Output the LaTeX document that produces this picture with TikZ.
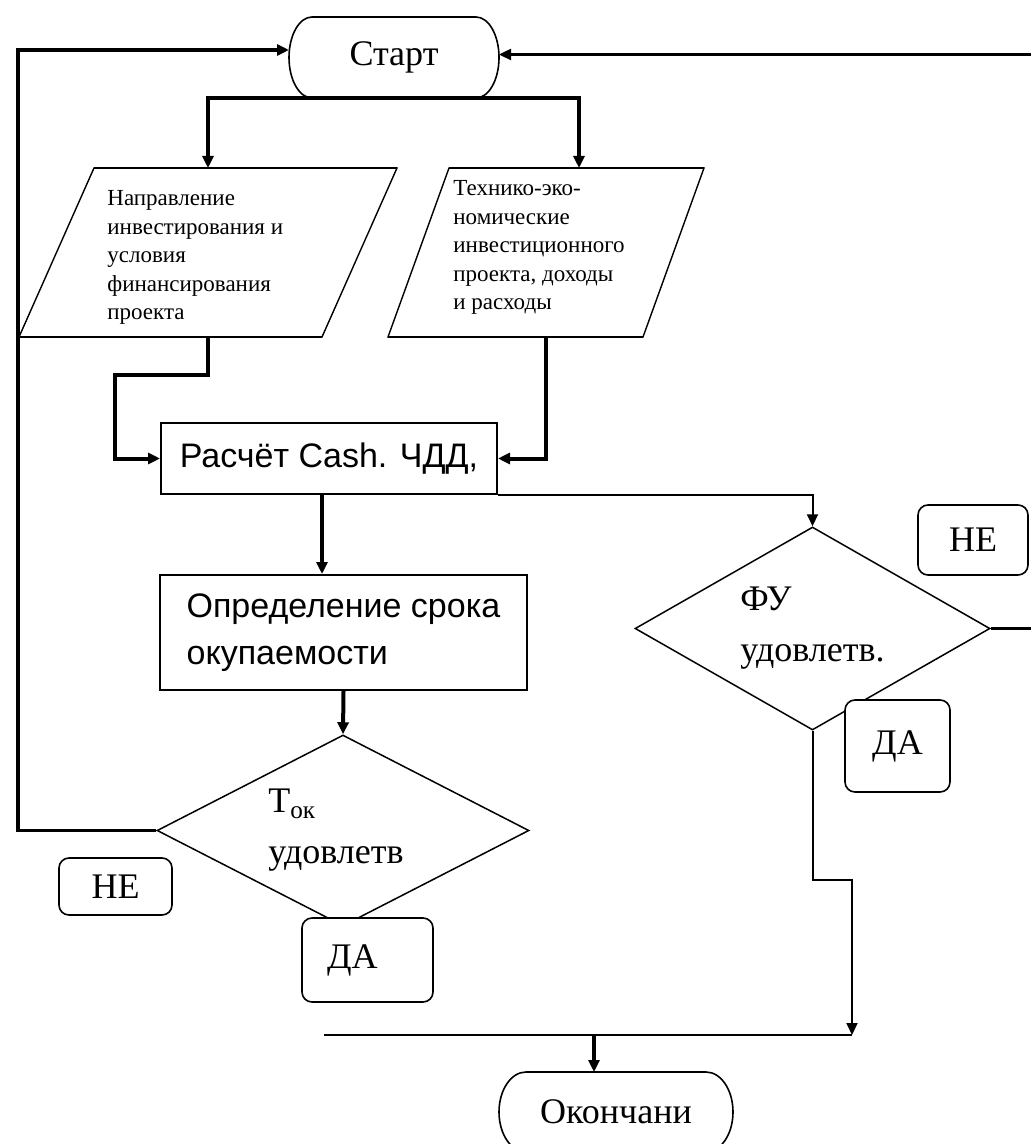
\documentclass[tikz,border=0pt]{standalone}
\usepackage{fontspec}
\setmainfont{Liberation Serif}
\setsansfont{Liberation Sans}
\usetikzlibrary{arrows.meta,shapes.geometric,calc}

% Terminator outline: straight top and bottom, half-elliptic ends.
% #1 node name, #2 x radius of the ends, #3 y radius of the ends (drawing units)
\newcommand\drawterm[3]{%
  \draw[outline]
    ($(#1.north west)+(#2,0)$) -- ($(#1.north east)+(-#2,0)$)
    .. controls +(0.5523*#2,0) and +(0,-0.5523*#3) .. (#1.east)
    .. controls +(0,0.5523*#3) and +(0.5523*#2,0) .. ($(#1.south east)+(-#2,0)$)
    -- ($(#1.south west)+(#2,0)$)
    .. controls +(-0.5523*#2,0) and +(0,0.5523*#3) .. (#1.west)
    .. controls +(0,-0.5523*#3) and +(-0.5523*#2,0) .. ($(#1.north west)+(#2,0)$)
    -- cycle;}

% Parallelogram outline drawn inside an invisible frame node; #2 = slant offset
\newcommand\drawslant[2]{%
  \draw[slantline]
    (#1.south west) -- ($(#1.north west)+(#2,0)$) -- (#1.north east)
    -- ($(#1.south east)+(-#2,0)$) -- cycle;
  \draw[edge] ($(#1.north west)+(#2,0)$) -- (#1.north east);
  \draw[edge] (#1.south west) -- ($(#1.south east)+(-#2,0)$);}

\tikzset{
  tip/.style={-{Triangle[length=6pt,width=5.5pt]}},
  conn/.style={line width=2pt, tip},
  thinconn/.style={line width=1pt, tip},
  loopline/.style={line width=1.8pt, tip},
  rloopline/.style={line width=1.2pt, tip},
  plainline/.style={line width=1pt},
  outline/.style={line width=0.8pt},
  edge/.style={line width=1pt},
  slantline/.style={line width=0.7pt},
  frame/.style={inner sep=0pt, outer sep=0pt},
  term/.style={frame, font=\fontsize{18}{21}\selectfont},
  procbox/.style={draw, line width=1pt, inner sep=0pt, fill=white,
    font=\sffamily\fontsize{17}{23.5}\selectfont},
  decision/.style={diamond, aspect=2, draw, line width=0.75pt, inner sep=0pt,
    align=left, font=\fontsize{18}{25.5}\selectfont},
  tag/.style={draw, rounded corners=5pt, line width=0.8pt, fill=white,
    inner sep=0pt, font=\fontsize{18}{21}\selectfont},
  ptext/.style={inner sep=0pt, align=left, font=\fontsize{11.5}{14.3}\selectfont},
}

\begin{document}
\begin{tikzpicture}[x=0.5pt, y=-0.5pt]
\useasboundingbox (0,0) rectangle (1030,1144);

% ---- terminators ----
\node[term, minimum width=105pt, minimum height=40.5pt] (start) at (394,57.5) {Старт};
\drawterm{start}{23}{40.5}
\node[term, minimum width=117pt, minimum height=40pt] (end) at (616,1112) {Окончани};
\drawterm{end}{27}{40}

% ---- input data ----
\node[frame, minimum width=189pt, minimum height=84.5pt] (par1) at (208,252.5) {};
\drawslant{par1}{75}
\node[ptext, anchor=north west] (par1txt) at (107,190)
  {Направление\\инвестирования и\\условия\\финансирования\\проекта};
\node[frame, minimum width=158pt, minimum height=84.5pt] (par2) at (546,252.5) {};
\drawslant{par2}{61}
\node[ptext, anchor=north west] (par2txt) at (453,180)
  {Технико-эко-\\номические\\инвестиционного\\проекта, доходы\\и расходы};

% ---- processes ----
\node[procbox, minimum width=168pt, minimum height=35.5pt] (calc) at (329,458.5)
  {Расчёт Cash. ЧДД,};
\node[procbox, minimum width=183.5pt, minimum height=57.5pt, align=left] (okup)
  at (343.5,632.5) {Определение срока\\окупаемости};

% ---- decisions ----
\node[decision, minimum width=186pt, minimum height=95.5pt] (tok) at (343,830.5)
  {\hspace*{-7pt}Т\textsubscript{ок}\\\hspace*{-7pt}удовлетв};
\node[decision, minimum width=177.5pt, minimum height=101.5pt] (fu) at (812.5,628.5)
  {ФУ\\удовлетв.};

% ---- branch tags ----
\node[tag, minimum width=56.5pt, minimum height=28.5pt] (ne1) at (115.5,886.5) {НЕ};
\node[tag, minimum width=65.5pt, minimum height=42pt, text width=40.5pt, align=left]
  (da1) at (367.5,960) {ДА};
\node[tag, minimum width=55pt, minimum height=35pt] (ne2) at (973,540) {НЕ};
\node[tag, minimum width=52.5pt, minimum height=46pt] (da2) at (897.5,746) {ДА};

% ---- routing points ----
\coordinate (lft) at (18,0);
\coordinate (rgt) at (1040,0);
\coordinate (j1) at (115,375);
\coordinate (j2) at (852,880);
\coordinate (m1) at (324,1035);
\coordinate (m2) at (852,1035);
\coordinate (m3) at (594,1035);

% ---- connectors ----
\draw[conn] (start.south) -| (par1.north);
\draw[conn] (start.south) -| ($(par2.north)+(33,0)$);
\draw[conn] (par1.south) |- (j1) |- (calc.west);
\draw[conn] (par2.south) |- (calc.east);
\path ($(calc.south)+(-7,0)$) coordinate (c1);
\draw[conn] (c1) -- (c1 |- okup.north);
\draw[conn] (okup.south) -- (tok.north);
\draw[thinconn] (calc.south east) -| (fu.north);
\draw[loopline] (tok.west) -- (tok.west -| lft) |- ($(start.west)+(0,-7.5)$);
\draw[rloopline] (fu.east) -- (fu.east -| rgt) |- ($(start.east)+(0,-3)$);
\draw[thinconn] (fu.south) |- (j2) -- (m2);
\draw[plainline] (m1) -- (m2);
\draw[conn] (m3) -- (m3 |- end.north);
\end{tikzpicture}
\end{document}
